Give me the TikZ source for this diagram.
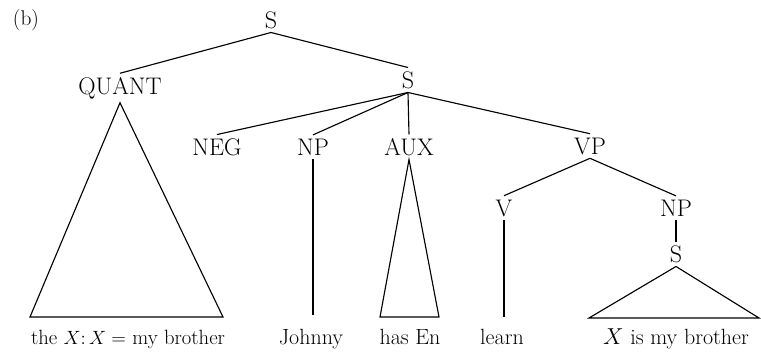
\documentclass[tikz,border=0pt]{standalone}
\usetikzlibrary{positioning}

\tikzset{
  cat/.style = {inner sep = 2.5pt, font = \fontsize{18}{21}\selectfont},
  leaf/.style = {inner sep = 2pt, anchor = base, font = \fontsize{16.5}{19}\selectfont},
}

\begin{document}
\begin{tikzpicture}[x = 0.75pt, y = -0.75pt, line width = 0.85pt]
\useasboundingbox (0,0) rectangle (761,351);
\node[inner sep = 2pt, font = \fontsize{16}{19}\selectfont] (lab) at (26,20) {(b)};
% top level
\node[cat] (s) at (271,20) {S};
\node[cat] (quant) at (120,88) {QUANT};
\node[cat] (s2) at (408,80) {S};
\draw (s.south) -- (quant.north);
\draw (s.south) -- (s2.north);
% daughters of the lower S
\node[cat] (neg) at (217,147) {NEG};
\node[cat] (np) at (313,147) {NP};
\node[cat] (aux) at (409,147) {AUX};
\node[cat] (vp) at (590,146) {VP};
\draw (s2.south) -- (neg.north);
\draw (s2.south) -- (np.north);
\draw (s2.south) -- (aux.north);
\draw (s2.south) -- (vp.north);
% VP
\node[cat] (v) at (504,208) {V};
\node[cat] (np2) at (676,208) {NP};
\node[cat] (s3) at (676,254) {S};
\draw (vp.south) -- (v.north);
\draw (vp.south) -- (np2.north);
\draw (np2.south) -- (s3.north);
% triangles and stems
\coordinate (qL) at (30,317);
\coordinate (qR) at (223,317);
\draw (quant.south) -- (qL) -- (qR) -- cycle;
\coordinate (aL) at (380,317);
\coordinate (aR) at (439,317);
\draw (aux.south) -- (aL) -- (aR) -- cycle;
\coordinate (sL) at (589,318);
\coordinate (sR) at (759,318);
\draw (s3.south) -- (sL) -- (sR) -- cycle;
\coordinate (npE) at (313,315);
\draw (np.south) -- (npE);
\coordinate (vE) at (504,317);
\draw (v.south) -- (vE);
% leaves
\node[leaf, font = \fontsize{15.5}{18}\selectfont] (w1) at (128,344) {the $X{:}\,X =$ my brother};
\node[leaf] (w2) at (311,344) {Johnny};
\node[leaf] (w3) at (410,344) {has En};
\node[leaf] (w4) at (502,344) {learn};
\node[leaf] (w5) at (676,344) {$X$ is my brother};
\end{tikzpicture}
\end{document}
